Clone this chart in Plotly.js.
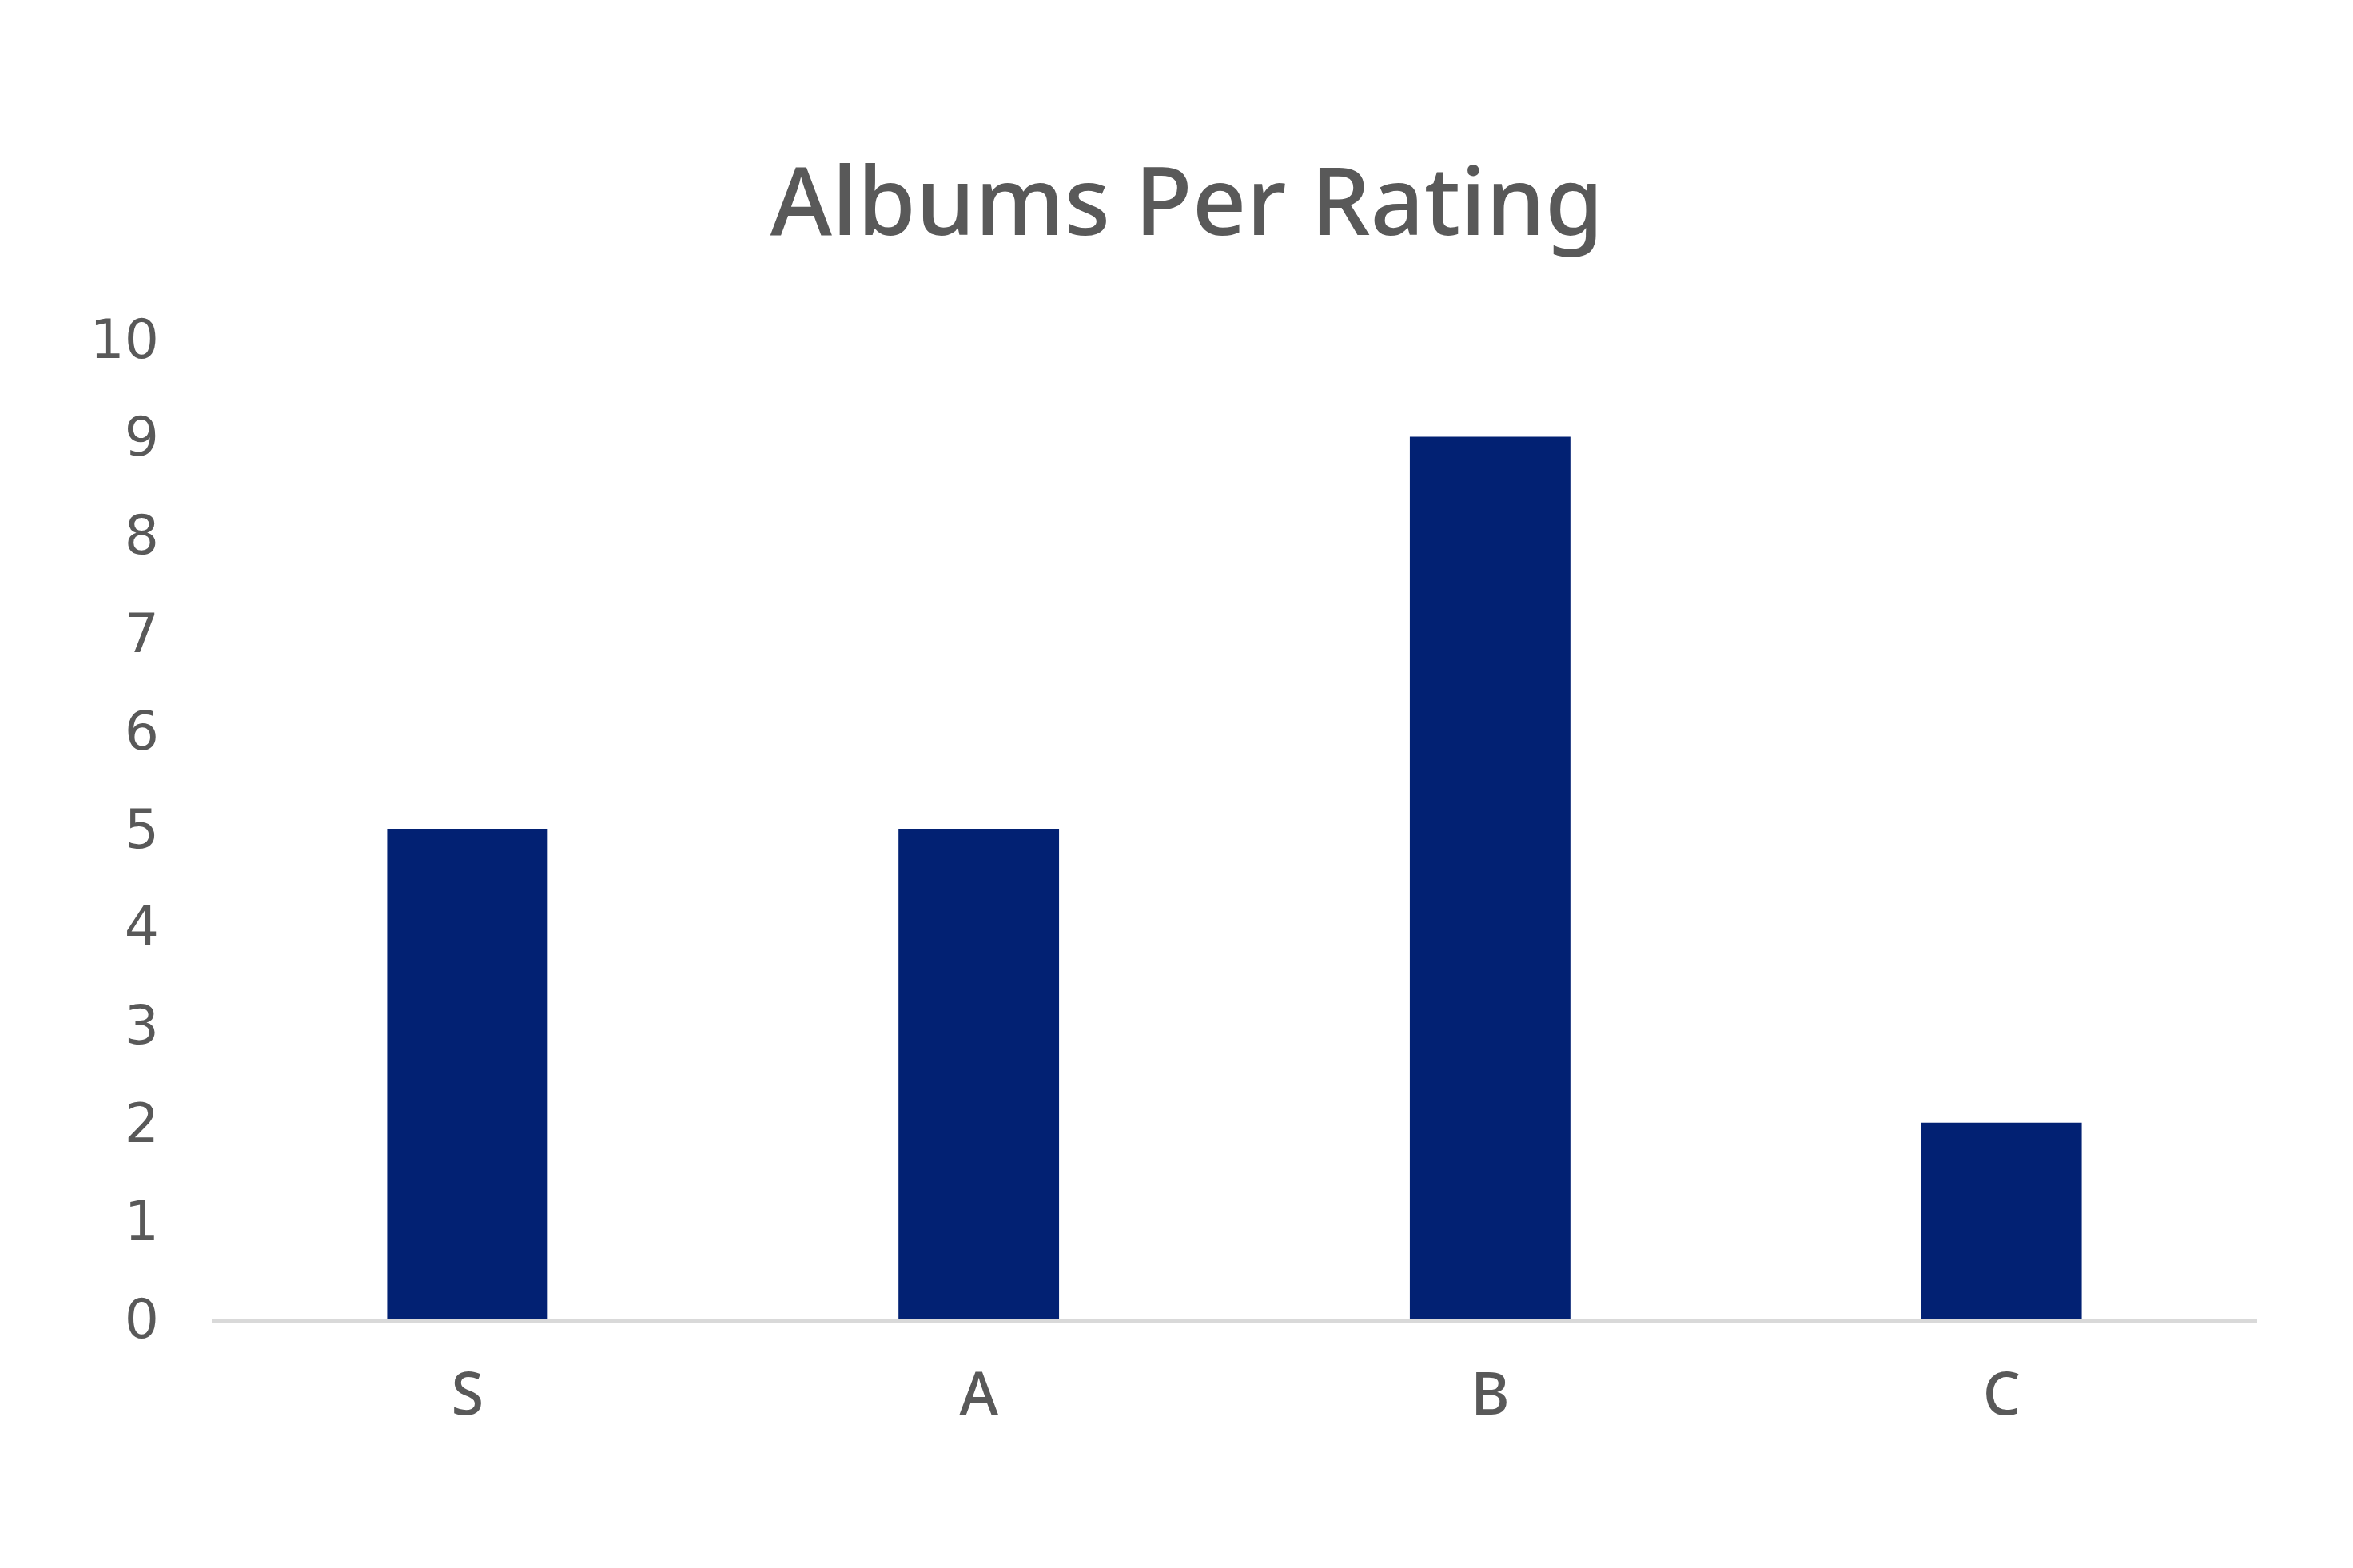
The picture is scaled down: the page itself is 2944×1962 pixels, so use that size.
<!DOCTYPE html>
<html>
<head>
<meta charset="utf-8">
<script src="https://cdn.plot.ly/plotly-3.0.1.min.js"></script>
<style>html,body{margin:0;padding:0;background:#fff;}#chart{width:2944px;height:1962px;}</style>
</head>
<body>
<div id="chart"></div>
<script>
const categories = ["S", "A", "B", "C"];
const albumCounts = [5, 5, 9, 2];
const yTickValues = [0, 1, 2, 3, 4, 5, 6, 7, 8, 9, 10];

const trace = {
  type: "bar",
  x: categories,
  y: albumCounts,
  marker: {color: "#022173", line: {width: 0}},
  hoverinfo: "x+y"
};

const layout = {
  width: 2944,
  height: 1962,
  paper_bgcolor: "#ffffff",
  plot_bgcolor: "#ffffff",
  margin: {l: 265, r: 120, t: 424, b: 312, pad: 0},
  bargap: 0.686,
  showlegend: false,
  title: {
    text: "Albums Per Rating",
    font: {family: "Noto Sans", size: 118, weight: 500, color: "#595959"},
    x: 0.5044, xanchor: "center",
    y: 1 - 253/1962, yanchor: "middle"
  },
  xaxis: {
    type: "category",
    showgrid: false,
    zeroline: false,
    showline: true,
    linecolor: "#d9d9d9",
    linewidth: 5,
    ticks: "",
    ticklabelstandoff: 26,
    tickfont: {family: "Noto Sans", size: 74, weight: 500, color: "#595959"}
  },
  yaxis: {
    range: [0, 10],
    tickvals: yTickValues,
    showgrid: false,
    zeroline: false,
    showline: false,
    ticks: "",
    ticklabelstandoff: 65,
    tickfont: {family: "DejaVu Sans", size: 68, color: "#595959"}
  }
};

Plotly.newPlot("chart", [trace], layout, {displayModeBar: false, staticPlot: true});
</script>
</body>
</html>
